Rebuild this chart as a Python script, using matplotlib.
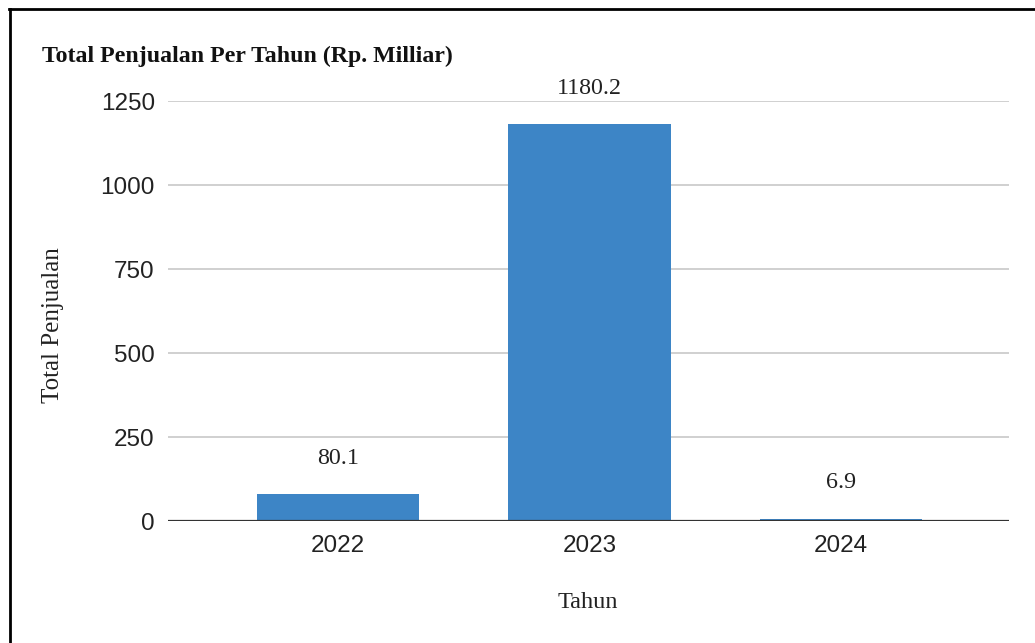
import matplotlib
matplotlib.use("Agg")
import matplotlib.pyplot as plt
from matplotlib.lines import Line2D

years = ["2022", "2023", "2024"]
sales = [80.1, 1180.2, 6.9]
value_labels = ["80.1", "1180.2", "6.9"]
yticks = [0, 250, 500, 750, 1000, 1250]

W, H = 1035, 643
fig = plt.figure(figsize=(W / 100, H / 100), dpi=100)
fig.patch.set_facecolor("white")

ax = fig.add_axes([168 / W, (H - 521) / H, (1009 - 168) / W, (521 - 101) / H])
x = list(range(len(years)))
ax.bar(x, sales, width=0.645, color="#3d85c6", zorder=3)
ax.set_xlim(-0.677, 2.669)
ax.set_ylim(0, 1250)
ax.set_yticks(yticks)
ax.set_yticklabels([str(t) for t in yticks], fontfamily="Liberation Sans", fontsize=17.5, color="#222222")
ax.set_xticks(x)
ax.set_xticklabels(years, fontfamily="Liberation Sans", fontsize=17.5, color="#222222")
ax.tick_params(axis="both", length=0)
ax.tick_params(axis="y", pad=9.5)
ax.tick_params(axis="x", pad=10)
for s in ax.spines.values():
    s.set_visible(False)
ax.grid(axis="y", color="#c8c8c8", linewidth=1.2, zorder=0)
ax.axhline(0, color="#333333", linewidth=1.6, zorder=4)

for xi, v, lab in zip(x, sales, value_labels):
    ax.annotate(lab, (xi, v), xytext=(0, 36), textcoords="offset pixels",
                ha="center", va="center", fontfamily="Liberation Serif",
                fontsize=17.3, color="#222222")

fig.text(42 / W, 1 - 56 / H, "Total Penjualan Per Tahun (Rp. Milliar)",
         fontfamily="Liberation Serif", fontweight="bold", fontsize=17.2,
         ha="left", va="center", color="#111111")
fig.text(53 / W, 1 - 325 / H, "Total Penjualan", rotation=90,
         fontfamily="Liberation Serif", fontsize=18, ha="center", va="center", color="#222222")
fig.text(588 / W, 1 - 603 / H, "Tahun",
         fontfamily="Liberation Serif", fontsize=17.5, ha="center", va="center", color="#222222")

# page border (left and top edges)
fig.add_artist(Line2D([9.5 / W, 9.5 / W], [0, 1 - 9 / H], transform=fig.transFigure, color="black", linewidth=2))
fig.add_artist(Line2D([9 / W, 1], [1 - 9 / H, 1 - 9 / H], transform=fig.transFigure, color="black", linewidth=2))

fig.savefig("out.png", dpi=100, facecolor="white")
